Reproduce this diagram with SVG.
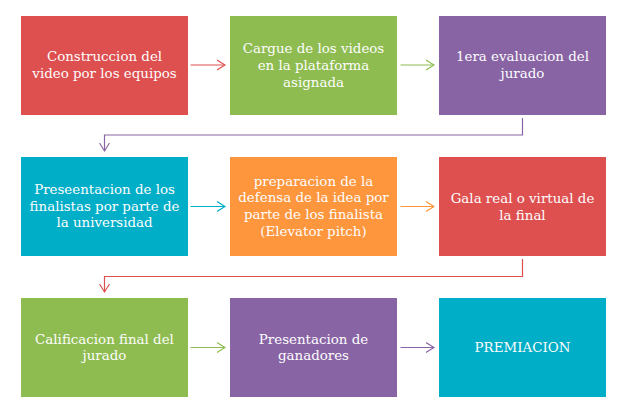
<svg xmlns="http://www.w3.org/2000/svg" width="624" height="416" viewBox="0 0 624 416">
<style>
.t{font-family:"DejaVu Serif","Liberation Serif",serif;font-size:13.4px;fill:#fdfdfd;text-anchor:middle}
.c{fill:none;stroke-width:1.2}
</style>
<defs>
<marker id="mr" markerWidth="10" markerHeight="12" refX="8" refY="6" orient="auto" markerUnits="userSpaceOnUse"><polyline points="0,1 8,6 0,11" fill="none" stroke="#DE4F4F" stroke-width="1.1"/></marker>
<marker id="mg" markerWidth="10" markerHeight="12" refX="8" refY="6" orient="auto" markerUnits="userSpaceOnUse"><polyline points="0,1 8,6 0,11" fill="none" stroke="#8EBC50" stroke-width="1.1"/></marker>
<marker id="mp" markerWidth="10" markerHeight="12" refX="8" refY="6" orient="auto" markerUnits="userSpaceOnUse"><polyline points="0,1 8,6 0,11" fill="none" stroke="#8964A5" stroke-width="1.1"/></marker>
<marker id="mc" markerWidth="10" markerHeight="12" refX="8" refY="6" orient="auto" markerUnits="userSpaceOnUse"><polyline points="0,1 8,6 0,11" fill="none" stroke="#00AEC8" stroke-width="1.1"/></marker>
<marker id="mo" markerWidth="10" markerHeight="12" refX="8" refY="6" orient="auto" markerUnits="userSpaceOnUse"><polyline points="0,1 8,6 0,11" fill="none" stroke="#FD963D" stroke-width="1.1"/></marker>
</defs>
<rect width="624" height="416" fill="#ffffff"/>
<g id="connectors">
<line class="c" x1="190.5" y1="65" x2="225" y2="65" stroke="#DE4F4F" marker-end="url(#mr)"/>
<line class="c" x1="400.5" y1="65" x2="434" y2="65" stroke="#8EBC50" marker-end="url(#mg)"/>
<polyline class="c" points="522.5,118 522.5,135 104.5,135 104.5,151" stroke="#8964A5" marker-end="url(#mp)"/>
<line class="c" x1="190.5" y1="206.5" x2="225" y2="206.5" stroke="#00AEC8" marker-end="url(#mc)"/>
<line class="c" x1="400.5" y1="206.5" x2="434" y2="206.5" stroke="#FD963D" marker-end="url(#mo)"/>
<polyline class="c" points="522.5,259 522.5,276.5 104.5,276.5 104.5,292" stroke="#DE4F4F" marker-end="url(#mr)"/>
<line class="c" x1="190.5" y1="347.5" x2="225" y2="347.5" stroke="#8EBC50" marker-end="url(#mg)"/>
<line class="c" x1="400.5" y1="347.5" x2="434" y2="347.5" stroke="#8964A5" marker-end="url(#mp)"/>
</g>
<g id="n1"><rect x="21" y="16" width="167" height="99" fill="#DE4F4F"/>
<text class="t" x="104.5" y="61">Construccion del<tspan x="104.5" dy="16.7">video por los equipos</tspan></text></g>
<g id="n2"><rect x="230" y="16" width="167" height="99" fill="#8EBC50"/>
<text class="t" x="313.5" y="53.3">Cargue de los videos<tspan x="313.5" dy="16.7">en la plataforma</tspan><tspan x="313.5" dy="16.7">asignada</tspan></text></g>
<g id="n3"><rect x="439" y="16" width="167" height="99" fill="#8964A5"/>
<text class="t" x="522.5" y="61">1era evaluacion del<tspan x="522.5" dy="16.7">jurado</tspan></text></g>
<g id="n4"><rect x="21" y="157" width="167" height="99" fill="#00AEC8"/>
<text class="t" x="104.5" y="194">Preseentacion de los<tspan x="104.5" dy="16.7">finalistas por parte de</tspan><tspan x="104.5" dy="16.7">la universidad</tspan></text></g>
<g id="n5"><rect x="230" y="157" width="167" height="99" fill="#FD963D"/>
<text class="t" x="313.5" y="185.7">preparacion de la<tspan x="313.5" dy="16.7">defensa de la idea por</tspan><tspan x="313.5" dy="16.7">parte de los finalista</tspan><tspan x="313.5" dy="16.7">(Elevator pitch)</tspan></text></g>
<g id="n6"><rect x="439" y="157" width="167" height="99" fill="#DE4F4F"/>
<text class="t" x="522.5" y="203">Gala real o virtual de<tspan x="522.5" dy="16.7">la final</tspan></text></g>
<g id="n7"><rect x="21" y="298" width="167" height="99" fill="#8EBC50"/>
<text class="t" x="104.5" y="343.7">Calificacion final del<tspan x="104.5" dy="16.7">jurado</tspan></text></g>
<g id="n8"><rect x="230" y="298" width="167" height="99" fill="#8964A5"/>
<text class="t" x="313.5" y="343.7">Presentacion de<tspan x="313.5" dy="16.7">ganadores</tspan></text></g>
<g id="n9"><rect x="439" y="298" width="167" height="99" fill="#00AEC8"/>
<text class="t" x="522.5" y="352">PREMIACION</text></g>
</svg>
